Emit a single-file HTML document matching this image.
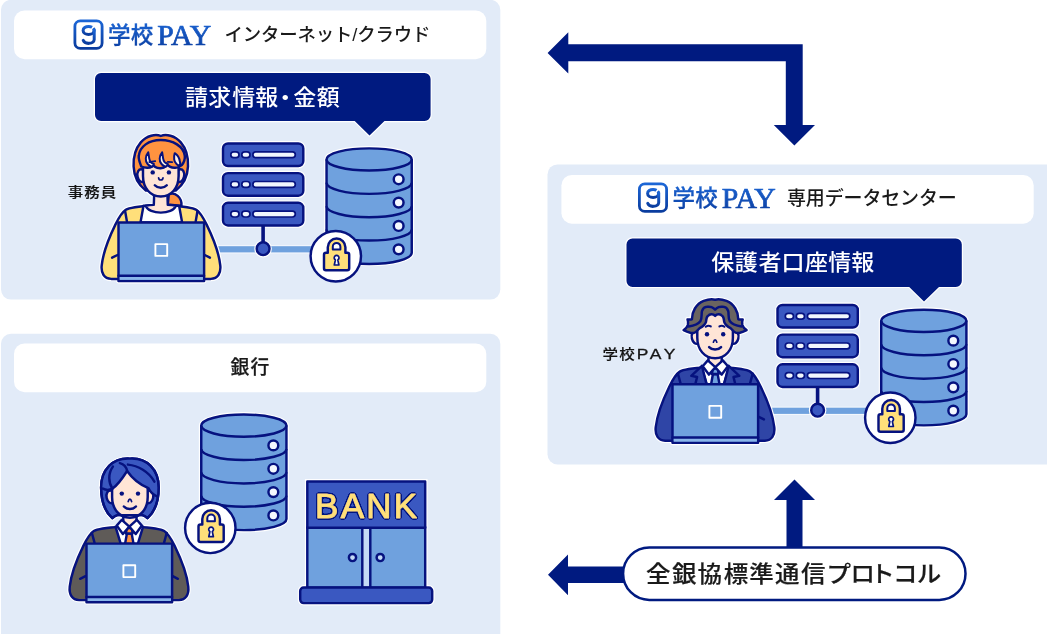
<!DOCTYPE html>
<html lang="ja"><head><meta charset="utf-8"><title>学校PAY セキュリティ構成</title>
<style>html,body{margin:0;padding:0;background:#fff;}body{width:1047px;height:634px;overflow:hidden;font-family:'Liberation Sans', 'Noto Sans CJK JP', sans-serif;}svg{display:block;will-change:transform;}text{font-family:'Liberation Sans', 'Noto Sans CJK JP', sans-serif;}</style>
</head><body>
<svg width="1047" height="634" viewBox="0 0 1047 634">
<defs><filter id="ol" x="-5%" y="-20%" width="110%" height="140%"><feGaussianBlur in="SourceAlpha" stdDeviation="1.1"/><feComponentTransfer result="d"><feFuncA type="linear" slope="14" intercept="-0.7"/></feComponentTransfer><feFlood flood-color="#06127f"/><feComposite in2="d" operator="in" result="o"/><feMerge><feMergeNode in="o"/><feMergeNode in="SourceGraphic"/></feMerge></filter><linearGradient id="lg" x1="0" y1="0" x2="0" y2="1"><stop offset="0" stop-color="#1c66d6"/><stop offset="1" stop-color="#0a3c9e"/></linearGradient></defs>
<rect x="1" y="-0.2" width="499.3" height="299.8" rx="10" fill="#e2ebf8"/>
<rect x="1" y="333.8" width="499.3" height="310" rx="10" fill="#e2ebf8"/>
<rect x="547.5" y="164.4" width="510" height="300.1" rx="10" fill="#e2ebf8"/>
<rect x="14" y="10.4" width="472.3" height="48.8" rx="10.5" fill="#fff"/>
<rect x="14" y="343.4" width="472.3" height="48.8" rx="10.5" fill="#fff"/>
<rect x="561.4" y="174.9" width="472.3" height="48.8" rx="10.5" fill="#fff"/>
<path d="M101 73 H424.6 a6 6 0 0 1 6 6 V115 a6 6 0 0 1 -6 6 H384.5 L369.5 135.6 L354.7 121 H101 a6 6 0 0 1 -6 -6 V79 a6 6 0 0 1 6 -6 Z" fill="#001a80" stroke="#fff" stroke-width="2.4" paint-order="stroke" stroke-linejoin="round"/>
<path d="M632.5 238.4 H955.8 a6 6 0 0 1 6 6 V280.9 a6 6 0 0 1 -6 6 H939 L924 301.4 L909.2 286.9 H632.5 a6 6 0 0 1 -6 -6 V244.4 a6 6 0 0 1 6 -6 Z" fill="#001a80" stroke="#fff" stroke-width="2.4" paint-order="stroke" stroke-linejoin="round"/>
<text transform="translate(0 104.8) scale(1 0.96)" x="185.13 208.37 232.17 255.26 273.7 293.34 316.67" y="0" font-size="23" font-weight="500" fill="#fff">請求情報・金額</text>
<text transform="translate(0 269.7) scale(1 0.96)" x="711.31 734.72 758.39 781.42 805 828.32 851.36" y="0" font-size="23" font-weight="500" fill="#fff">保護者口座情報</text>
<rect x="74.9" y="20.9" width="27.2" height="27.4" rx="5.4" fill="#fff" stroke="url(#lg)" stroke-width="2.8"/>
<ellipse cx="88.6" cy="30.4" rx="5.5" ry="4" fill="none" stroke="url(#lg)" stroke-width="3" stroke-dasharray="25.5 1.4 30 0"/>
<path d="M94.2 29.8 V39.6 A5.6 4.1 0 0 1 83.2 40.3" fill="none" stroke="url(#lg)" stroke-width="3" stroke-linecap="round"/>
<text font-weight="500" font-size="22.5" fill="url(#lg)" stroke="url(#lg)" stroke-width="0.3"><tspan x="108.1 130.7" y="43.4">学校</tspan><tspan x="157.3" y="44.8" style="font-family:'Liberation Serif',serif" font-weight="400" font-size="28.5" textLength="54" lengthAdjust="spacingAndGlyphs" stroke-width="0.7">PAY</tspan></text>
<text x="224.6" y="40.8" font-size="18.4" font-weight="500" letter-spacing="-0.15" fill="#1a1a1a">インターネット/クラウド</text>
<rect x="639.4" y="183.9" width="27.2" height="27.4" rx="5.4" fill="#fff" stroke="url(#lg)" stroke-width="2.8"/>
<ellipse cx="653.1" cy="193.4" rx="5.5" ry="4" fill="none" stroke="url(#lg)" stroke-width="3" stroke-dasharray="25.5 1.4 30 0"/>
<path d="M658.7 192.8 V202.6 A5.6 4.1 0 0 1 647.7 203.3" fill="none" stroke="url(#lg)" stroke-width="3" stroke-linecap="round"/>
<text font-weight="500" font-size="22.5" fill="url(#lg)" stroke="url(#lg)" stroke-width="0.3"><tspan x="672.6 695.2" y="206.4">学校</tspan><tspan x="721.8" y="207.8" style="font-family:'Liberation Serif',serif" font-weight="400" font-size="28.5" textLength="54" lengthAdjust="spacingAndGlyphs" stroke-width="0.7">PAY</tspan></text>
<text x="787" y="205.3" font-size="19" font-weight="500" letter-spacing="-0.15" fill="#1a1a1a">専用データセンター</text>
<text x="230.4 250.49" y="373.7" font-size="18.8" font-weight="500" fill="#1a1a1a" stroke="#1a1a1a" stroke-width="0.25">銀行</text>
<text transform="translate(67.7 196.6) scale(1.17 1)" x="0" y="0" font-size="13.2" font-weight="500" letter-spacing="0.95" fill="#141414" stroke="#141414" stroke-width="0.15">事務員</text>
<text transform="translate(602.6 359) scale(1.15 1)" font-size="13.5" font-weight="500" fill="#141414" stroke="#141414" stroke-width="0.15"><tspan x="0" y="0" letter-spacing="1">学校</tspan><tspan x="29.8 41.1 53.2" y="0.4" font-size="15.2" font-weight="400" stroke-width="0.3">PAY</tspan></text>
<rect x="214" y="245.1" width="98" height="8.4" fill="#f3f7fd"/><rect x="214" y="246.2" width="98" height="6.2" fill="#6fa1de"/>
<rect x="223" y="143.4" width="80.3" height="22.6" rx="5" fill="#fff" stroke="#fff" stroke-width="4.8"/>
<rect x="223" y="173.1" width="80.3" height="22.6" rx="5" fill="#fff" stroke="#fff" stroke-width="4.8"/>
<rect x="223" y="202.8" width="80.3" height="22.6" rx="5" fill="#fff" stroke="#fff" stroke-width="4.8"/>
<rect x="223" y="143.4" width="80.3" height="22.6" rx="5" fill="#3a58c1" stroke="#06127f" stroke-width="2.45"/>
<rect x="230.8" y="151.8" width="8.2" height="5.8" rx="2.9" fill="#f1f6fd" stroke="#06127f" stroke-width="1.7"/>
<rect x="241.8" y="151.8" width="8.2" height="5.8" rx="2.9" fill="#f1f6fd" stroke="#06127f" stroke-width="1.7"/>
<rect x="252.9" y="151.8" width="42.4" height="5.8" rx="2.9" fill="#f1f6fd" stroke="#06127f" stroke-width="1.7"/>
<rect x="223" y="173.1" width="80.3" height="22.6" rx="5" fill="#3a58c1" stroke="#06127f" stroke-width="2.45"/>
<rect x="230.8" y="181.5" width="8.2" height="5.8" rx="2.9" fill="#f1f6fd" stroke="#06127f" stroke-width="1.7"/>
<rect x="241.8" y="181.5" width="8.2" height="5.8" rx="2.9" fill="#f1f6fd" stroke="#06127f" stroke-width="1.7"/>
<rect x="252.9" y="181.5" width="42.4" height="5.8" rx="2.9" fill="#f1f6fd" stroke="#06127f" stroke-width="1.7"/>
<rect x="223" y="202.8" width="80.3" height="22.6" rx="5" fill="#3a58c1" stroke="#06127f" stroke-width="2.45"/>
<rect x="230.8" y="211.2" width="8.2" height="5.8" rx="2.9" fill="#f1f6fd" stroke="#06127f" stroke-width="1.7"/>
<rect x="241.8" y="211.2" width="8.2" height="5.8" rx="2.9" fill="#f1f6fd" stroke="#06127f" stroke-width="1.7"/>
<rect x="252.9" y="211.2" width="42.4" height="5.8" rx="2.9" fill="#f1f6fd" stroke="#06127f" stroke-width="1.7"/>
<circle cx="263.1" cy="248.7" r="6.4" fill="#fff" stroke="#fff" stroke-width="4.8"/><line x1="263.1" y1="226" x2="263.1" y2="249.3" stroke="#06127f" stroke-width="3.6"/><circle cx="263.1" cy="248.7" r="6.4" fill="#3a58c1" stroke="#06127f" stroke-width="2.45"/>
<path d="M326.55 159.45 A42.6 11.1 0 0 1 411.75 159.45 V252.85 A42.6 11.1 0 0 1 326.55 252.85 Z" fill="#fff" stroke="#fff" stroke-width="4.8"/>
<path d="M326.55 159.45 A42.6 11.1 0 0 1 411.75 159.45 V252.85 A42.6 11.1 0 0 1 326.55 252.85 Z" fill="#6fa1de" stroke="#06127f" stroke-width="2.45"/>
<path d="M326.55 159.45 A42.6 11.1 0 0 0 411.75 159.45" fill="none" stroke="#06127f" stroke-width="2.45"/>
<path d="M326.55 182.8 A42.6 11.1 0 0 0 411.75 182.8" fill="none" stroke="#06127f" stroke-width="2.45"/>
<path d="M326.55 206.15 A42.6 11.1 0 0 0 411.75 206.15" fill="none" stroke="#06127f" stroke-width="2.45"/>
<path d="M326.55 229.5 A42.6 11.1 0 0 0 411.75 229.5" fill="none" stroke="#06127f" stroke-width="2.45"/>
<circle cx="398.65" cy="179.25" r="4.9" fill="#f4f8fe" stroke="#06127f" stroke-width="2.45"/>
<circle cx="398.65" cy="202.6" r="4.9" fill="#f4f8fe" stroke="#06127f" stroke-width="2.45"/>
<circle cx="398.65" cy="225.95" r="4.9" fill="#f4f8fe" stroke="#06127f" stroke-width="2.45"/>
<circle cx="398.65" cy="249.3" r="4.9" fill="#f4f8fe" stroke="#06127f" stroke-width="2.45"/>
<circle cx="335.8" cy="256.2" r="25.2" fill="#fff" stroke="#06127f" stroke-width="2.45"/>
<path d="M324 254.7 a2 2 0 0 1 2 -2 H327.8 V247.3 A8.8 8.8 0 0 1 345.4 247.3 V252.7 H347.2 a2 2 0 0 1 2 2 V268.2 a2 2 0 0 1 -2 2 H326 a2 2 0 0 1 -2 -2 Z" fill="#ffdf7a" stroke="#06127f" stroke-width="2.45" stroke-linejoin="round"/>
<path d="M332.8 249.6 V246.7 A3.8 3.8 0 0 1 340.4 246.7 V249.6 Z" fill="#fff" stroke="#06127f" stroke-width="2" stroke-linejoin="round"/>
<path d="M335.4 259.9 A2.4 2.4 0 1 1 337.8 259.9 L338.9 265 H334.3 Z" fill="#fff" stroke="#06127f" stroke-width="1.7" stroke-linejoin="round"/>
<g stroke-linejoin="round" stroke-linecap="round">
<path d="M160.8 136 C155.8 133.8 146.8 135.4 140.8 142.4 C134.8 149.4 133.2 157.4 133.6 166.4 C134 176.4 137.8 184.4 145.8 190.4 L175.8 190.4 C183.8 184.4 187.6 176.4 188 166.4 C188.4 157.4 186.8 149.4 180.8 142.4 C174.8 135.4 165.8 133.8 160.8 136 Z" fill="#fff" stroke="#fff" stroke-width="4.8"/>
<path d="M168.8 194.4 C174.8 191.4 182.3 197.4 181.4 205.9 L167.8 204.4 Z" fill="#fff" stroke="#fff" stroke-width="4.8"/>
<path d="M143.3 169.8 C138.3 167.8 136.6 172.8 137.6 176.8 C138.6 180.8 141.1 182.8 144.1 181.8 Z" fill="#fff" stroke="#fff" stroke-width="4.8"/><path d="M178.3 169.8 C183.3 167.8 185 172.8 184 176.8 C183 180.8 180.5 182.8 177.5 181.8 Z" fill="#fff" stroke="#fff" stroke-width="4.8"/><path d="M143 175.9 C143 187.9 150.3 196.5 160.8 196.5 C171.3 196.5 178.6 187.9 178.6 175.9 L178.6 156.4 L173.8 148.4 L147.8 148.4 L143 156.4 Z" fill="#fff" stroke="#fff" stroke-width="4.8"/><path d="M154.2 193.4 L154.2 202.9 L167.4 202.9 L167.4 193.4 Z" fill="#fff" stroke="#fff" stroke-width="4.8"/>
<path d="M154.15 205.4 C141.44 206.2 130.68 206.8 125.79 209.8 C120.9 213 117.97 219.4 115.03 225.4 C108.19 239.4 102.81 255.4 101.73 265.4 C100.85 273.4 104.28 278.6 111.12 278.9 L210.88 278.9 C217.72 278.6 221.15 273.4 220.27 265.4 C219.19 255.4 213.81 239.4 206.97 225.4 C204.03 219.4 201.1 213 196.21 209.8 C191.32 206.8 180.56 206.2 167.85 205.4 Z" fill="#fff" stroke="#fff" stroke-width="4.8"/>
<rect x="118.5" y="222.4" width="85.6" height="58.6" fill="#fff" stroke="#fff" stroke-width="4.8"/>
<path d="M168.8 194.4 C174.8 191.4 182.3 197.4 181.4 205.9 L167.8 204.4 Z" fill="#ff9340" stroke="#06127f" stroke-width="2.45"/>
<path d="M160.8 136 C155.8 133.8 146.8 135.4 140.8 142.4 C134.8 149.4 133.2 157.4 133.6 166.4 C134 176.4 137.8 184.4 145.8 190.4 L175.8 190.4 C183.8 184.4 187.6 176.4 188 166.4 C188.4 157.4 186.8 149.4 180.8 142.4 C174.8 135.4 165.8 133.8 160.8 136 Z" fill="#ff9340" stroke="#06127f" stroke-width="2.45"/>
<path d="M154.15 205.4 C141.44 206.2 130.68 206.8 125.79 209.8 C120.9 213 117.97 219.4 115.03 225.4 C108.19 239.4 102.81 255.4 101.73 265.4 C100.85 273.4 104.28 278.6 111.12 278.9 L210.88 278.9 C217.72 278.6 221.15 273.4 220.27 265.4 C219.19 255.4 213.81 239.4 206.97 225.4 C204.03 219.4 201.1 213 196.21 209.8 C191.32 206.8 180.56 206.2 167.85 205.4 Z" fill="#ffdf7a" stroke="#06127f" stroke-width="2.45"/>
<path d="M143.5 205.8 L140.5 222.4 L182.1 222.4 L179.1 205.8 Z" fill="#fff" stroke="#06127f" stroke-width="2.45"/>
<path d="M154.2 193.4 L153.8 204.9 C149.8 205.1 147.8 205.4 145.8 205.8 C148.8 214.9 172.8 214.9 175.8 205.8 C173.8 205.4 171.8 205.1 167.8 204.9 L167.4 193.4 Z" fill="#ffe5d6" stroke="#06127f" stroke-width="2.45"/>
<path d="M125.1 211 L126.9 221.4 M197.5 211 L195.7 221.4" fill="none" stroke="#06127f" stroke-width="2.45"/>
<path d="M143.3 169.8 C138.3 167.8 136.6 172.8 137.6 176.8 C138.6 180.8 141.1 182.8 144.1 181.8 Z" fill="#ffe5d6" stroke="#06127f" stroke-width="2.45"/><path d="M178.3 169.8 C183.3 167.8 185 172.8 184 176.8 C183 180.8 180.5 182.8 177.5 181.8 Z" fill="#ffe5d6" stroke="#06127f" stroke-width="2.45"/><path d="M143 175.9 C143 187.9 150.3 196.5 160.8 196.5 C171.3 196.5 178.6 187.9 178.6 175.9 L178.6 156.4 L173.8 148.4 L147.8 148.4 L143 156.4 Z" fill="#ffe5d6" stroke="#06127f" stroke-width="2.45"/>
<path d="M141.3 166.5 C139.8 162.4 138.2 159.4 138.8 155.8 C139.8 146.4 148.8 140 160.8 140 C172.8 140 183.8 146.4 184.8 155.8 C185.2 159.4 183.6 162.9 181.7 165.2 C180.6 166.2 179.8 166.4 179.2 166.5 C177.8 168 172.8 168.4 170.3 166.9 C168.3 165.8 166.8 164.6 165.9 163.3 L165.3 166.5 C163.8 168.6 157.8 168.8 155.3 167 C153.8 166 152.6 165 152 164 L151.7 166.8 C149.8 168.2 144.8 168.2 141.3 166.5 Z" fill="#ff9340" stroke="#06127f" stroke-width="2.45"/>
<path d="M148.2 152.3 C145.2 155.9 145 161.4 147.6 164 C148.8 165.4 150.3 166.4 151.7 166.8 C152.8 166.1 153.6 165.1 153.9 164 C151.3 163.2 149.6 160.9 149.2 158.3 C148.9 156.4 148.6 154.4 148.2 152.3 Z" fill="#fff6ea" stroke="#06127f" stroke-width="2.0"/>
<path d="M162.1 152.3 C159.1 155.9 158.9 161.4 161.5 164 C162.7 165.4 164.2 166.4 165.6 166.8 C166.7 166.1 167.5 165.1 167.8 164 C165.2 163.2 163.5 160.9 163.1 158.3 C162.8 156.4 162.5 154.4 162.1 152.3 Z" fill="#fff6ea" stroke="#06127f" stroke-width="2.0"/>
<path d="M174.7 153.2 C173.4 157.4 174.2 161.9 176 163.3 C177 164.6 178.1 165.5 179.2 165.9 C180.4 164.4 180.3 162.4 179.8 161.5 C179.5 158.4 177.3 154.9 174.7 153.2 Z" fill="#fff6ea" stroke="#06127f" stroke-width="2.0"/>
<path d="M149.3 162.2 L155.2 161.2 M167.8 161.8 L172.1 162.1" fill="none" stroke="#06127f" stroke-width="1.8"/>
<circle cx="152.7" cy="172.4" r="2.2" fill="#06127f"/><circle cx="168.9" cy="172.4" r="2.2" fill="#06127f"/>
<path d="M158.6 177.8 C158.9 180.7 162.7 180.7 163 177.8" fill="none" stroke="#06127f" stroke-width="1.7"/>
<path d="M154.8 185.3 C157.8 188.6 163.8 188.6 166.8 185.3" fill="none" stroke="#06127f" stroke-width="2.45"/>
<path d="M112.1 257.6 L117.5 255 M209.9 257.6 L204.7 255" fill="none" stroke="#06127f" stroke-width="2.45"/>
<rect x="118.5" y="222.4" width="85.6" height="58.6" fill="#6fa1de" stroke="#06127f" stroke-width="2.45" stroke-linejoin="round"/>
<rect x="119.73" y="275.7" width="83.15" height="4.08" fill="#8ab6ea"/>
<line x1="118.5" y1="275.7" x2="204.1" y2="275.7" stroke="#06127f" stroke-width="2.45"/>
<rect x="155.4" y="244.1" width="11.8" height="11.8" fill="none" stroke="#fff" stroke-width="1.9"/>
</g>
<rect x="768.5" y="406.6" width="98" height="8.4" fill="#f3f7fd"/><rect x="768.5" y="407.7" width="98" height="6.2" fill="#6fa1de"/>
<rect x="777.5" y="304.9" width="80.3" height="22.6" rx="5" fill="#fff" stroke="#fff" stroke-width="4.8"/>
<rect x="777.5" y="334.6" width="80.3" height="22.6" rx="5" fill="#fff" stroke="#fff" stroke-width="4.8"/>
<rect x="777.5" y="364.3" width="80.3" height="22.6" rx="5" fill="#fff" stroke="#fff" stroke-width="4.8"/>
<rect x="777.5" y="304.9" width="80.3" height="22.6" rx="5" fill="#3a58c1" stroke="#06127f" stroke-width="2.45"/>
<rect x="785.3" y="313.3" width="8.2" height="5.8" rx="2.9" fill="#f1f6fd" stroke="#06127f" stroke-width="1.7"/>
<rect x="796.3" y="313.3" width="8.2" height="5.8" rx="2.9" fill="#f1f6fd" stroke="#06127f" stroke-width="1.7"/>
<rect x="807.4" y="313.3" width="42.4" height="5.8" rx="2.9" fill="#f1f6fd" stroke="#06127f" stroke-width="1.7"/>
<rect x="777.5" y="334.6" width="80.3" height="22.6" rx="5" fill="#3a58c1" stroke="#06127f" stroke-width="2.45"/>
<rect x="785.3" y="343" width="8.2" height="5.8" rx="2.9" fill="#f1f6fd" stroke="#06127f" stroke-width="1.7"/>
<rect x="796.3" y="343" width="8.2" height="5.8" rx="2.9" fill="#f1f6fd" stroke="#06127f" stroke-width="1.7"/>
<rect x="807.4" y="343" width="42.4" height="5.8" rx="2.9" fill="#f1f6fd" stroke="#06127f" stroke-width="1.7"/>
<rect x="777.5" y="364.3" width="80.3" height="22.6" rx="5" fill="#3a58c1" stroke="#06127f" stroke-width="2.45"/>
<rect x="785.3" y="372.7" width="8.2" height="5.8" rx="2.9" fill="#f1f6fd" stroke="#06127f" stroke-width="1.7"/>
<rect x="796.3" y="372.7" width="8.2" height="5.8" rx="2.9" fill="#f1f6fd" stroke="#06127f" stroke-width="1.7"/>
<rect x="807.4" y="372.7" width="42.4" height="5.8" rx="2.9" fill="#f1f6fd" stroke="#06127f" stroke-width="1.7"/>
<circle cx="817.6" cy="410.2" r="6.4" fill="#fff" stroke="#fff" stroke-width="4.8"/><line x1="817.6" y1="387.5" x2="817.6" y2="410.8" stroke="#06127f" stroke-width="3.6"/><circle cx="817.6" cy="410.2" r="6.4" fill="#3a58c1" stroke="#06127f" stroke-width="2.45"/>
<path d="M881.2 320.85 A42.6 11.1 0 0 1 966.4 320.85 V414.25 A42.6 11.1 0 0 1 881.2 414.25 Z" fill="#fff" stroke="#fff" stroke-width="4.8"/>
<path d="M881.2 320.85 A42.6 11.1 0 0 1 966.4 320.85 V414.25 A42.6 11.1 0 0 1 881.2 414.25 Z" fill="#6fa1de" stroke="#06127f" stroke-width="2.45"/>
<path d="M881.2 320.85 A42.6 11.1 0 0 0 966.4 320.85" fill="none" stroke="#06127f" stroke-width="2.45"/>
<path d="M881.2 344.2 A42.6 11.1 0 0 0 966.4 344.2" fill="none" stroke="#06127f" stroke-width="2.45"/>
<path d="M881.2 367.55 A42.6 11.1 0 0 0 966.4 367.55" fill="none" stroke="#06127f" stroke-width="2.45"/>
<path d="M881.2 390.9 A42.6 11.1 0 0 0 966.4 390.9" fill="none" stroke="#06127f" stroke-width="2.45"/>
<circle cx="953.3" cy="340.65" r="4.9" fill="#f4f8fe" stroke="#06127f" stroke-width="2.45"/>
<circle cx="953.3" cy="364" r="4.9" fill="#f4f8fe" stroke="#06127f" stroke-width="2.45"/>
<circle cx="953.3" cy="387.35" r="4.9" fill="#f4f8fe" stroke="#06127f" stroke-width="2.45"/>
<circle cx="953.3" cy="410.7" r="4.9" fill="#f4f8fe" stroke="#06127f" stroke-width="2.45"/>
<circle cx="890.3" cy="417.7" r="25.2" fill="#fff" stroke="#06127f" stroke-width="2.45"/>
<path d="M878.5 416.2 a2 2 0 0 1 2 -2 H882.3 V408.8 A8.8 8.8 0 0 1 899.9 408.8 V414.2 H901.7 a2 2 0 0 1 2 2 V429.7 a2 2 0 0 1 -2 2 H880.5 a2 2 0 0 1 -2 -2 Z" fill="#ffdf7a" stroke="#06127f" stroke-width="2.45" stroke-linejoin="round"/>
<path d="M887.3 411.1 V408.2 A3.8 3.8 0 0 1 894.9 408.2 V411.1 Z" fill="#fff" stroke="#06127f" stroke-width="2" stroke-linejoin="round"/>
<path d="M889.9 421.4 A2.4 2.4 0 1 1 892.3 421.4 L893.4 426.5 H888.8 Z" fill="#fff" stroke="#06127f" stroke-width="1.7" stroke-linejoin="round"/>
<g stroke-linejoin="round" stroke-linecap="round">
<path d="M695.8 332 C694.1 333 692.1 333.2 690.3 332.8 C688.1 332.2 685.6 331.2 683.6 330.1 C685.6 329 687.1 327.2 687.9 324.9 C688.3 323.2 688.1 321.2 687.5 319.4 C689.1 319.6 690.6 319.7 691.9 319.4 C691.7 312.2 696.1 303.7 703.7 300.9 C708.1 299.3 712.1 299 715.1 299.7 C718.1 299 722.1 299.3 726.5 300.9 C734.1 303.7 738.5 312.2 738.3 319.4 C739.6 319.7 741.1 319.6 742.7 319.4 C742.1 321.2 741.9 323.2 742.3 324.9 C743.1 327.2 744.6 329 746.6 330.1 C744.6 331.2 742.1 332.2 739.9 332.8 C738.1 333.2 736.1 333 734.4 332 C732.6 330.2 731.1 328.7 730.5 328.1 C727.1 326.2 724.9 324.2 724.2 321.8 C723.9 319.2 723.7 317.2 722.6 316.3 C721.1 314.6 719.9 314.2 718.6 314.3 C717.1 314.4 715.9 315 715.1 315.9 C714.3 315 713.1 314.4 711.6 314.3 C710.3 314.2 709.1 314.6 707.6 316.3 C706.5 317.2 706.3 319.2 706 321.8 C705.3 324.2 703.1 326.2 699.7 328.1 C699.1 328.7 697.6 330.2 695.8 332 Z" fill="#fff" stroke="#fff" stroke-width="4.8"/>
<path d="M697.6 331.6 C692.6 329.6 690.9 334.6 691.9 338.6 C692.9 342.6 695.4 344.6 698.4 343.6 Z" fill="#fff" stroke="#fff" stroke-width="4.8"/><path d="M732.6 331.6 C737.6 329.6 739.3 334.6 738.3 338.6 C737.3 342.6 734.8 344.6 731.8 343.6 Z" fill="#fff" stroke="#fff" stroke-width="4.8"/><path d="M697.3 337.7 C697.3 349.7 704.6 358.3 715.1 358.3 C725.6 358.3 732.9 349.7 732.9 337.7 L732.9 318.2 L728.1 310.2 L702.1 310.2 L697.3 318.2 Z" fill="#fff" stroke="#fff" stroke-width="4.8"/><path d="M708.5 355.2 L708.5 364.7 L721.7 364.7 L721.7 355.2 Z" fill="#fff" stroke="#fff" stroke-width="4.8"/>
<path d="M708.15 367.2 C695.44 368 684.68 368.6 679.79 371.6 C674.9 374.8 671.97 381.2 669.03 387.2 C662.19 401.2 656.81 417.2 655.73 427.2 C654.85 435.2 658.28 440.4 665.12 440.7 L764.88 440.7 C771.72 440.4 775.15 435.2 774.27 427.2 C773.19 417.2 767.81 401.2 760.97 387.2 C758.03 381.2 755.1 374.8 750.21 371.6 C745.32 368.6 734.56 368 721.85 367.2 Z" fill="#fff" stroke="#fff" stroke-width="4.8"/>
<rect x="672.5" y="384.2" width="85.6" height="58.6" fill="#fff" stroke="#fff" stroke-width="4.8"/>
<path d="M708.15 367.2 C695.44 368 684.68 368.6 679.79 371.6 C674.9 374.8 671.97 381.2 669.03 387.2 C662.19 401.2 656.81 417.2 655.73 427.2 C654.85 435.2 658.28 440.4 665.12 440.7 L764.88 440.7 C771.72 440.4 775.15 435.2 774.27 427.2 C773.19 417.2 767.81 401.2 760.97 387.2 C758.03 381.2 755.1 374.8 750.21 371.6 C745.32 368.6 734.56 368 721.85 367.2 Z" fill="#2f45a6" stroke="#06127f" stroke-width="2.45"/>
<path d="M701.5 367.2 L706.7 384.2 L723.9 384.2 L729.1 367.2 Z" fill="#fff" stroke="#06127f" stroke-width="2.45"/>
<path d="M712.9 374.2 L711.1 384.2 L719.5 384.2 L717.7 374.2 Z" fill="#6fa1de" stroke="#06127f" stroke-width="2.45"/>
<path d="M712.6 368.6 L718 368.6 L718.6 374 L712 374 Z" fill="#6fa1de" stroke="#06127f" stroke-width="2.45"/>
<path d="M701.9 365.8 L691.3 375.8 L697.1 377 L695.3 384.2 L706.5 384.2 Z" fill="#2f45a6" stroke="#06127f" stroke-width="2.45"/>
<path d="M728.7 365.8 L739.3 375.8 L733.5 377 L735.3 384.2 L724.1 384.2 Z" fill="#2f45a6" stroke="#06127f" stroke-width="2.45"/>
<path d="M677.9 373.6 L680.5 383.2 M752.7 373.6 L750.1 383.2" fill="none" stroke="#06127f" stroke-width="2.45"/>
<path d="M708.5 355.2 L708.5 364.7 C711.1 368.7 719.1 368.7 721.7 364.7 L721.7 355.2 Z" fill="#ffe5d6" stroke="#06127f" stroke-width="2.45"/>
<path d="M707.8 360.4 L702.7 366.2 L708.9 374.6 L715.3 367.2 Z" fill="#fff" stroke="#06127f" stroke-width="2.45"/><path d="M722.8 360.4 L727.9 366.2 L721.7 374.6 L715.3 367.2 Z" fill="#fff" stroke="#06127f" stroke-width="2.45"/>
<path d="M697.6 331.6 C692.6 329.6 690.9 334.6 691.9 338.6 C692.9 342.6 695.4 344.6 698.4 343.6 Z" fill="#ffe5d6" stroke="#06127f" stroke-width="2.45"/><path d="M732.6 331.6 C737.6 329.6 739.3 334.6 738.3 338.6 C737.3 342.6 734.8 344.6 731.8 343.6 Z" fill="#ffe5d6" stroke="#06127f" stroke-width="2.45"/><path d="M697.3 337.7 C697.3 349.7 704.6 358.3 715.1 358.3 C725.6 358.3 732.9 349.7 732.9 337.7 L732.9 318.2 L728.1 310.2 L702.1 310.2 L697.3 318.2 Z" fill="#ffe5d6" stroke="#06127f" stroke-width="2.45"/>
<path d="M695.8 332 C694.1 333 692.1 333.2 690.3 332.8 C688.1 332.2 685.6 331.2 683.6 330.1 C685.6 329 687.1 327.2 687.9 324.9 C688.3 323.2 688.1 321.2 687.5 319.4 C689.1 319.6 690.6 319.7 691.9 319.4 C691.7 312.2 696.1 303.7 703.7 300.9 C708.1 299.3 712.1 299 715.1 299.7 C718.1 299 722.1 299.3 726.5 300.9 C734.1 303.7 738.5 312.2 738.3 319.4 C739.6 319.7 741.1 319.6 742.7 319.4 C742.1 321.2 741.9 323.2 742.3 324.9 C743.1 327.2 744.6 329 746.6 330.1 C744.6 331.2 742.1 332.2 739.9 332.8 C738.1 333.2 736.1 333 734.4 332 C732.6 330.2 731.1 328.7 730.5 328.1 C727.1 326.2 724.9 324.2 724.2 321.8 C723.9 319.2 723.7 317.2 722.6 316.3 C721.1 314.6 719.9 314.2 718.6 314.3 C717.1 314.4 715.9 315 715.1 315.9 C714.3 315 713.1 314.4 711.6 314.3 C710.3 314.2 709.1 314.6 707.6 316.3 C706.5 317.2 706.3 319.2 706 321.8 C705.3 324.2 703.1 326.2 699.7 328.1 C699.1 328.7 697.6 330.2 695.8 332 Z" fill="#6a6460" stroke="#06127f" stroke-width="2.45"/>
<path d="M688.7 326.5 C694.1 325.7 698.6 323.7 700.5 321 C702.3 317.7 701.1 313.7 702.1 310.7 C703.1 308.2 705.1 306.9 706.8 306.8 C709.1 306.6 710.6 306.7 711.6 307.2 C713.1 307.8 714.3 308.7 715.1 309.6 C715.9 308.7 717.1 307.8 718.6 307.2 C719.6 306.7 721.1 306.6 723.4 306.8 C725.1 306.9 727.1 308.2 728.1 310.7 C729.1 313.7 727.9 317.7 729.7 321 C731.6 323.7 736.1 325.7 741.5 326.5" fill="none" stroke="#06127f" stroke-width="2.45"/>
<path d="M705.8 326.8 C707.5 325.5 709.3 325.5 710.8 326.4 M724.4 326.8 C722.7 325.5 720.9 325.5 719.4 326.4" fill="none" stroke="#06127f" stroke-width="2"/>
<circle cx="707" cy="334.2" r="2.2" fill="#06127f"/><circle cx="723.2" cy="334.2" r="2.2" fill="#06127f"/>
<path d="M713.4 342.2 C713.9 340.4 714.5 339.8 715.1 339.8 C715.7 339.8 716.3 340.4 716.8 342.2" fill="none" stroke="#06127f" stroke-width="1.7"/>
<path d="M709.1 347.1 C712.1 350.4 718.1 350.4 721.1 347.1" fill="none" stroke="#06127f" stroke-width="2.45"/>
<path d="M763.9 419.4 L758.7 416.8" fill="none" stroke="#06127f" stroke-width="2.45"/>
<rect x="672.5" y="384.2" width="85.6" height="58.6" fill="#6fa1de" stroke="#06127f" stroke-width="2.45" stroke-linejoin="round"/>
<rect x="673.73" y="437.5" width="83.15" height="4.08" fill="#8ab6ea"/>
<line x1="672.5" y1="437.5" x2="758.1" y2="437.5" stroke="#06127f" stroke-width="2.45"/>
<rect x="709.4" y="405.9" width="11.8" height="11.8" fill="none" stroke="#fff" stroke-width="1.9"/>
</g>
<path d="M201.25 425.6 A42.6 11.1 0 0 1 286.45 425.6 V519 A42.6 11.1 0 0 1 201.25 519 Z" fill="#fff" stroke="#fff" stroke-width="4.8"/>
<path d="M201.25 425.6 A42.6 11.1 0 0 1 286.45 425.6 V519 A42.6 11.1 0 0 1 201.25 519 Z" fill="#6fa1de" stroke="#06127f" stroke-width="2.45"/>
<path d="M201.25 425.6 A42.6 11.1 0 0 0 286.45 425.6" fill="none" stroke="#06127f" stroke-width="2.45"/>
<path d="M201.25 448.95 A42.6 11.1 0 0 0 286.45 448.95" fill="none" stroke="#06127f" stroke-width="2.45"/>
<path d="M201.25 472.3 A42.6 11.1 0 0 0 286.45 472.3" fill="none" stroke="#06127f" stroke-width="2.45"/>
<path d="M201.25 495.65 A42.6 11.1 0 0 0 286.45 495.65" fill="none" stroke="#06127f" stroke-width="2.45"/>
<circle cx="273.35" cy="445.4" r="4.9" fill="#f4f8fe" stroke="#06127f" stroke-width="2.45"/>
<circle cx="273.35" cy="468.75" r="4.9" fill="#f4f8fe" stroke="#06127f" stroke-width="2.45"/>
<circle cx="273.35" cy="492.1" r="4.9" fill="#f4f8fe" stroke="#06127f" stroke-width="2.45"/>
<circle cx="273.35" cy="515.45" r="4.9" fill="#f4f8fe" stroke="#06127f" stroke-width="2.45"/>
<circle cx="210.3" cy="527.9" r="25.2" fill="#fff" stroke="#06127f" stroke-width="2.45"/>
<path d="M198.5 526.4 a2 2 0 0 1 2 -2 H202.3 V519 A8.8 8.8 0 0 1 219.9 519 V524.4 H221.7 a2 2 0 0 1 2 2 V539.9 a2 2 0 0 1 -2 2 H200.5 a2 2 0 0 1 -2 -2 Z" fill="#ffdf7a" stroke="#06127f" stroke-width="2.45" stroke-linejoin="round"/>
<path d="M207.3 521.3 V518.4 A3.8 3.8 0 0 1 214.9 518.4 V521.3 Z" fill="#fff" stroke="#06127f" stroke-width="2" stroke-linejoin="round"/>
<path d="M209.9 531.6 A2.4 2.4 0 1 1 212.3 531.6 L213.4 536.7 H208.8 Z" fill="#fff" stroke="#06127f" stroke-width="1.7" stroke-linejoin="round"/>
<g stroke-linejoin="round" stroke-linecap="round">
<path d="M129.9 458.6 C112.9 457.6 101.1 469.6 101.1 487.6 C101.1 499.6 104.9 511.6 112.3 518.2 C113.9 516.6 115.4 515.6 117.4 515.1 L142.4 515.1 C144.4 515.6 145.9 516.6 147.5 518.2 C154.9 511.6 158.7 499.6 158.7 487.6 C158.7 469.6 146.9 457.6 129.9 458.6 Z" fill="#fff" stroke="#fff" stroke-width="4.8"/>
<path d="M112.4 491 C107.4 489 105.7 494 106.7 498 C107.7 502 110.2 504 113.2 503 Z" fill="#fff" stroke="#fff" stroke-width="4.8"/><path d="M147.4 491 C152.4 489 154.1 494 153.1 498 C152.1 502 149.6 504 146.6 503 Z" fill="#fff" stroke="#fff" stroke-width="4.8"/><path d="M112.1 497.1 C112.1 509.1 119.4 517.7 129.9 517.7 C140.4 517.7 147.7 509.1 147.7 497.1 L147.7 477.6 L142.9 469.6 L116.9 469.6 L112.1 477.6 Z" fill="#fff" stroke="#fff" stroke-width="4.8"/><path d="M123.3 514.6 L123.3 524.1 L136.5 524.1 L136.5 514.6 Z" fill="#fff" stroke="#fff" stroke-width="4.8"/>
<path d="M122.15 526.6 C109.44 527.4 98.68 528 93.79 531 C88.9 534.2 85.97 540.6 83.03 546.6 C76.19 560.6 70.81 576.6 69.73 586.6 C68.85 594.6 72.28 599.8 79.12 600.1 L178.88 600.1 C185.72 599.8 189.15 594.6 188.27 586.6 C187.19 576.6 181.81 560.6 174.97 546.6 C172.03 540.6 169.1 534.2 164.21 531 C159.32 528 148.56 527.4 135.85 526.6 Z" fill="#fff" stroke="#fff" stroke-width="4.8"/>
<rect x="86.5" y="543.6" width="85.6" height="58.6" fill="#fff" stroke="#fff" stroke-width="4.8"/>
<path d="M129.9 458.6 C112.9 457.6 101.1 469.6 101.1 487.6 C101.1 499.6 104.9 511.6 112.3 518.2 C113.9 516.6 115.4 515.6 117.4 515.1 L142.4 515.1 C144.4 515.6 145.9 516.6 147.5 518.2 C154.9 511.6 158.7 499.6 158.7 487.6 C158.7 469.6 146.9 457.6 129.9 458.6 Z" fill="#3a58c1" stroke="#06127f" stroke-width="2.45"/>
<path d="M122.15 526.6 C109.44 527.4 98.68 528 93.79 531 C88.9 534.2 85.97 540.6 83.03 546.6 C76.19 560.6 70.81 576.6 69.73 586.6 C68.85 594.6 72.28 599.8 79.12 600.1 L178.88 600.1 C185.72 599.8 189.15 594.6 188.27 586.6 C187.19 576.6 181.81 560.6 174.97 546.6 C172.03 540.6 169.1 534.2 164.21 531 C159.32 528 148.56 527.4 135.85 526.6 Z" fill="#5f5b58" stroke="#06127f" stroke-width="2.45"/>
<path d="M115.5 526.6 L120.7 543.6 L137.9 543.6 L143.1 526.6 Z" fill="#fff" stroke="#06127f" stroke-width="2.45"/>
<path d="M126.9 533.6 L125.1 543.6 L133.5 543.6 L131.7 533.6 Z" fill="#ff9340" stroke="#06127f" stroke-width="2.45"/>
<path d="M126.6 528 L132 528 L132.6 533.4 L126 533.4 Z" fill="#ff9340" stroke="#06127f" stroke-width="2.45"/>
<path d="M91.9 533 L94.5 542.6 M166.7 533 L164.1 542.6" fill="none" stroke="#06127f" stroke-width="2.45"/>
<path d="M123.3 514.6 L123.3 524.1 C125.9 528.1 133.9 528.1 136.5 524.1 L136.5 514.6 Z" fill="#ffe5d6" stroke="#06127f" stroke-width="2.45"/>
<path d="M121.8 519.8 L116.7 525.6 L122.9 534 L129.3 526.6 Z" fill="#fff" stroke="#06127f" stroke-width="2.45"/><path d="M136.8 519.8 L141.9 525.6 L135.7 534 L129.3 526.6 Z" fill="#fff" stroke="#06127f" stroke-width="2.45"/>
<path d="M112.4 491 C107.4 489 105.7 494 106.7 498 C107.7 502 110.2 504 113.2 503 Z" fill="#ffe5d6" stroke="#06127f" stroke-width="2.45"/><path d="M147.4 491 C152.4 489 154.1 494 153.1 498 C152.1 502 149.6 504 146.6 503 Z" fill="#ffe5d6" stroke="#06127f" stroke-width="2.45"/><path d="M112.1 497.1 C112.1 509.1 119.4 517.7 129.9 517.7 C140.4 517.7 147.7 509.1 147.7 497.1 L147.7 477.6 L142.9 469.6 L116.9 469.6 L112.1 477.6 Z" fill="#ffe5d6" stroke="#06127f" stroke-width="2.45"/>
<path d="M157.5 496.6 C152.4 494.6 149.9 491.6 148.4 488.1 C140.9 485.1 132.4 478.6 127.1 471 C122.9 477.6 117.9 485.1 112.4 488.6 C109.4 490.2 105.9 490.2 102.9 488.6  L101.7 493.6 C100.4 473.6 110.9 458.6 129.9 458.6 C148.9 458.6 159.4 473.6 157.5 496.6 Z" fill="#3a58c1"/>
<path d="M157.5 496.6 C152.4 494.6 149.9 491.6 148.4 488.1 C140.9 485.1 132.4 478.6 127.1 471 C122.9 477.6 117.9 485.1 112.4 488.6 C109.4 490.2 105.9 490.2 102.9 488.6 " fill="none" stroke="#06127f" stroke-width="2.45"/>
<path d="M127.1 471 C126.4 467.1 123.9 464.1 119.9 463.1 M112.4 488.6 C108.4 482.6 107.9 473.6 112.9 466.6 M127.9 464.6 C137.9 465.6 148.9 471.6 154.4 481.6" fill="none" stroke="#06127f" stroke-width="2.45"/>
<path d="M129.9 458.6 C112.9 457.6 101.1 469.6 101.1 487.6 C101.1 499.6 104.9 511.6 112.3 518.2 C113.9 516.6 115.4 515.6 117.4 515.1 L142.4 515.1 C144.4 515.6 145.9 516.6 147.5 518.2 C154.9 511.6 158.7 499.6 158.7 487.6 C158.7 469.6 146.9 457.6 129.9 458.6 Z" fill="none" stroke="#06127f" stroke-width="2.45"/>
<circle cx="121.8" cy="493.6" r="2.2" fill="#06127f"/><circle cx="138" cy="493.6" r="2.2" fill="#06127f"/>
<path d="M128.2 501.6 C128.7 499.8 129.3 499.2 129.9 499.2 C130.5 499.2 131.1 499.8 131.6 501.6" fill="none" stroke="#06127f" stroke-width="1.7"/>
<path d="M123.9 506.5 C126.9 509.8 132.9 509.8 135.9 506.5" fill="none" stroke="#06127f" stroke-width="2.45"/>
<path d="M80.1 578.8 L85.5 576.2 M177.9 578.8 L172.7 576.2" fill="none" stroke="#06127f" stroke-width="2.45"/>
<rect x="86.5" y="543.6" width="85.6" height="58.6" fill="#6fa1de" stroke="#06127f" stroke-width="2.45" stroke-linejoin="round"/>
<rect x="87.73" y="596.9" width="83.15" height="4.08" fill="#8ab6ea"/>
<line x1="86.5" y1="596.9" x2="172.1" y2="596.9" stroke="#06127f" stroke-width="2.45"/>
<rect x="123.4" y="565.3" width="11.8" height="11.8" fill="none" stroke="#fff" stroke-width="1.9"/>
</g>
<rect x="307.3" y="481.5" width="117.9" height="106" fill="#fff" stroke="#fff" stroke-width="4.8"/>
<rect x="300.2" y="587.5" width="132" height="15.6" rx="3.5" fill="#fff" stroke="#fff" stroke-width="4.8"/>
<rect x="307.3" y="527.7" width="117.9" height="60" fill="#6fa1de" stroke="#06127f" stroke-width="2.45"/>
<rect x="362.3" y="527.7" width="8" height="60" fill="#c4daf5" stroke="#06127f" stroke-width="2.45"/>
<rect x="307.3" y="481.5" width="117.9" height="46.2" fill="#3a58c1" stroke="#06127f" stroke-width="2.45" stroke-linejoin="round"/>
<rect x="300.2" y="587.5" width="132" height="15.6" rx="3.5" fill="#3a58c1" stroke="#06127f" stroke-width="2.45"/>
<circle cx="352.5" cy="557.5" r="3.6" fill="#c4daf5" stroke="#06127f" stroke-width="2.45"/>
<circle cx="380.2" cy="557.5" r="3.6" fill="#c4daf5" stroke="#06127f" stroke-width="2.45"/>
<text x="315" y="518.3" font-size="35" letter-spacing="2.3" fill="#ffdf7a" stroke="#ffdf7a" stroke-width="0.7" stroke-linejoin="round" filter="url(#ol)">BANK</text>
<path d="M547.6 52.9 L568.3 32.3 V44.3 H802.7 V125 H815 L794.4 145.6 L773.8 125 H785.8 V61.3 H568.3 V73.5 Z" fill="#001a80"/>
<path d="M794.5 479.5 L815 500 H802.5 V548 H786.5 V500 H774 Z" fill="#001a80"/>
<path d="M548 574.8 L568 554.5 V566.5 H625 V583 H568 V595.3 Z" fill="#001a80"/>
<rect x="623.1" y="547.5" width="342.4" height="52.4" rx="26.2" fill="#fff" stroke="#001a80" stroke-width="2.5"/>
<text transform="translate(0 581.5) scale(1 0.94)" x="646.12 672.05 697.53 723.75 749.17 774.95 801.06 826.39 850.49 870.21 893.1 916.67" y="0" font-size="24.5" font-weight="500" fill="#1a1a1a" stroke="#1a1a1a" stroke-width="0.2">全銀協標準通信プロトコル</text>
</svg>
</body></html>
